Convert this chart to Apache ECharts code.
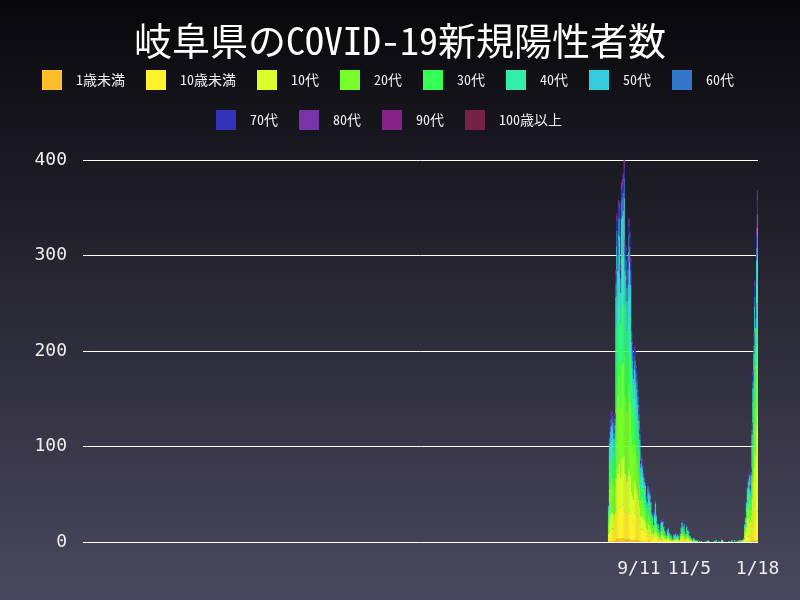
<!DOCTYPE html>
<html>
<head>
<meta charset="utf-8">
<script src="https://cdn.jsdelivr.net/npm/echarts@6/dist/echarts.min.js"></script>
<style>html,body{margin:0;padding:0;background:#000;}#c{width:800px;height:600px;}</style>
</head>
<body>
<div id="c"></div>
<script>
// ---- axis / category definitions ----
const axisStart = '2020-01-16';
const axisEnd = '2022-01-18';
const dataStart = '2021-08-09';   // first day of the daily arrays below (earlier days: no bars)
const tickDates = ['2021-09-11', '2021-11-05', '2022-01-18'];
const yTicks = [0, 100, 200, 300, 400];
const ageGroups = ['1歳未満','10歳未満','10代','20代','30代','40代','50代','60代','70代','80代','90代','100歳以上'];

// ---- daily new cases by age, 2021-08-09 .. 2022-01-18 (Aug | Sep | Oct | Nov | Dec | Jan) ----
const under1 = [
 0,1,1,1,2,1,1,1,3,3,3,4,4,3,4,4,4,4,3,3,3,3,3,
 3,3,2,2,2,2,2,2,2,2,1,1,1,1,1,1,1,1,0,0,1,1,1,0,0,0,0,0,0,0,
 0,0,0,0,0,0,0,0,0,0,0,0,0,0,0,0,0,0,0,0,0,0,0,0,0,0,1,0,0,0,0,
 0,0,0,0,0,0,0,0,0,0,0,0,0,0,0,0,0,0,0,0,0,0,0,0,0,0,0,0,0,0,
 0,0,0,0,0,0,0,0,0,0,0,0,0,0,0,0,0,0,0,0,0,0,0,0,0,0,0,0,0,0,0,
 0,0,0,0,0,0,1,0,1,0,1,1,1,1,1,1,2,2];
const under10 = [
 4,10,11,12,12,12,11,12,26,31,28,32,32,26,34,34,35,36,28,28,25,27,31,
 29,27,21,19,17,29,28,26,25,22,20,17,12,13,12,11,10,9,7,6,9,8,8,6,5,4,3,5,6,4,
 3,3,2,2,3,4,3,3,2,1,1,2,2,1,1,1,0,1,1,1,2,1,1,1,0,2,3,4,3,3,2,
 2,3,2,2,1,1,0,0,1,0,0,1,0,0,0,0,0,0,0,0,0,0,0,0,0,0,0,0,0,0,
 0,0,0,0,0,0,0,0,0,0,0,0,0,0,0,0,0,0,0,0,0,0,0,0,0,0,0,0,0,0,0,
 0,0,1,2,2,4,5,6,6,5,6,10,14,18,22,20,26,30];
const teens = [
 5,15,17,18,18,17,16,18,37,45,41,47,46,38,49,49,50,52,41,40,36,39,44,
 42,39,30,27,25,33,32,30,28,26,23,19,14,15,13,12,11,10,8,7,10,9,9,7,5,5,3,5,7,5,
 4,3,3,2,4,4,4,3,2,2,1,2,3,2,1,1,1,0,1,1,1,1,2,0,1,2,3,4,3,4,2,
 1,3,2,2,1,1,1,0,0,1,0,0,0,0,0,0,0,0,0,0,0,0,0,0,0,1,0,0,0,0,
 0,0,0,0,0,0,0,0,0,0,1,0,0,0,0,0,0,0,0,0,0,0,0,0,0,0,0,0,1,0,0,
 0,1,1,5,8,12,17,19,20,16,21,34,49,59,74,68,89,100];
const twenties = [
 11,30,33,35,36,34,31,35,74,89,82,93,92,75,98,99,100,104,82,81,73,78,88,
 85,77,60,55,49,41,40,37,35,32,28,24,17,18,17,15,14,13,10,9,12,11,11,9,7,6,4,7,9,6,
 4,4,3,2,5,5,5,3,3,2,2,3,3,2,2,2,1,1,2,2,2,1,2,2,1,2,3,4,3,4,2,
 2,3,3,2,2,1,1,1,1,1,1,0,1,0,0,0,0,1,0,0,0,0,0,0,1,0,0,0,0,0,
 0,0,0,1,0,0,0,0,0,1,0,0,0,0,0,0,0,1,0,0,0,0,0,1,0,0,1,0,0,0,1,
 1,1,1,5,6,10,13,15,16,13,16,26,38,46,58,52,69,77];
const thirties = [
 7,18,21,22,22,21,19,22,46,55,51,57,57,46,60,61,62,64,51,50,45,48,54,
 52,48,37,34,30,31,30,28,27,24,21,18,13,14,13,11,10,10,8,7,9,8,8,7,5,5,3,5,7,5,
 3,3,2,2,3,4,4,3,2,2,1,2,2,2,1,1,1,0,2,1,2,1,1,1,0,1,2,3,3,3,2,
 2,3,2,2,1,1,1,0,1,1,0,1,0,1,0,0,0,0,0,0,0,0,1,0,0,0,0,0,0,0,
 0,0,0,1,0,0,0,0,0,1,0,0,0,0,0,0,0,0,0,0,1,0,0,0,0,0,0,0,1,0,0,
 1,0,1,2,3,5,7,8,9,7,9,14,21,25,32,29,38,42];
const forties = [
 6,16,18,19,19,19,17,19,40,48,44,50,50,41,53,53,54,56,44,43,39,42,47,
 46,42,33,30,27,29,28,26,25,22,20,16,12,13,12,10,10,9,7,7,9,8,7,7,5,4,3,5,6,4,
 3,3,2,2,3,3,3,2,2,1,1,2,2,2,2,1,1,1,1,1,1,1,1,1,1,1,2,3,2,2,2,
 1,3,2,2,1,1,0,1,1,0,1,0,0,0,0,1,0,0,0,0,0,0,0,0,0,0,0,0,0,0,
 0,1,0,0,0,0,0,0,0,0,1,0,0,0,0,0,0,0,0,0,0,0,0,1,0,0,0,0,0,0,1,
 0,0,0,3,4,6,8,9,10,8,11,17,24,30,37,34,45,50];
const fifties = [
 4,13,14,15,15,15,13,15,31,38,35,39,39,32,41,42,42,44,35,34,31,33,37,
 36,33,26,23,21,20,20,18,18,16,14,12,9,9,8,8,7,7,5,5,6,6,5,5,3,3,2,3,5,3,
 2,2,1,1,2,2,2,2,1,1,1,1,2,1,1,1,1,0,1,1,1,1,1,1,0,1,1,2,2,2,1,
 1,1,2,1,1,1,1,0,0,1,0,0,0,1,0,0,0,0,0,0,0,0,0,0,1,0,0,0,0,0,
 0,0,0,0,0,0,1,0,0,0,0,0,0,0,0,0,0,0,0,0,1,0,0,0,0,0,0,0,0,1,0,
 0,0,0,1,2,4,5,6,6,5,6,10,14,18,22,20,26,28];
const sixties = [
 2,6,6,7,7,7,6,7,14,17,16,18,18,15,19,19,19,20,16,16,14,15,17,
 16,15,12,11,10,10,10,9,9,8,7,6,4,5,4,4,4,3,3,2,3,3,3,2,2,2,1,2,2,2,
 1,1,1,1,1,1,1,1,1,1,1,1,1,0,1,0,0,1,0,1,0,1,0,0,1,0,1,1,1,1,1,
 0,1,0,1,0,0,0,1,0,0,0,0,0,0,0,0,0,0,0,0,0,0,0,0,0,0,0,0,0,0,
 0,0,0,0,0,0,0,0,0,1,0,0,0,0,0,0,0,0,0,0,0,0,0,0,0,0,0,0,0,0,0,
 0,1,0,1,1,2,2,3,3,2,3,5,7,9,11,10,13,14];
const seventies = [
 1,4,4,4,4,4,4,4,9,10,9,11,10,9,11,11,12,12,9,9,8,9,10,
 10,9,7,6,6,6,6,6,5,5,4,3,3,3,3,2,2,2,1,1,2,1,1,1,1,1,1,1,1,1,
 1,1,1,0,1,1,1,1,1,0,0,0,1,1,0,0,0,0,1,0,0,0,1,0,0,1,0,1,0,1,0,
 1,0,1,0,1,0,0,0,1,0,0,0,0,0,0,0,0,0,0,1,0,0,0,0,0,0,0,0,0,0,
 0,0,0,0,0,0,0,0,0,0,0,0,0,0,0,0,0,0,0,0,0,0,1,0,0,0,0,0,0,0,0,
 0,0,1,1,1,1,2,2,2,2,3,5,7,9,11,10,13,15];
const eighties = [
 1,2,2,2,2,2,2,2,4,6,5,5,5,4,5,6,6,7,5,4,4,5,6,
 5,4,3,3,3,3,4,3,2,2,2,2,1,1,1,1,1,1,1,1,1,1,1,1,0,0,0,0,1,0,
 1,0,0,0,1,1,1,0,0,0,0,0,0,0,0,1,0,0,0,0,1,0,0,0,0,0,0,1,1,0,0,
 0,1,0,0,0,0,0,0,0,0,0,1,0,0,0,0,0,0,0,0,0,0,0,0,0,0,0,0,1,0,
 0,0,0,0,0,0,0,0,0,0,0,0,1,0,0,0,0,0,0,0,0,0,0,0,0,0,0,0,0,0,1,
 0,0,0,0,1,1,1,1,1,1,1,2,3,3,4,4,6,7];
const nineties = [
 0,0,1,0,1,0,0,0,1,2,2,2,2,1,2,2,2,3,2,2,2,1,2,
 1,1,1,1,0,1,1,0,1,1,1,0,0,0,0,0,0,0,0,0,0,0,0,0,0,0,0,0,0,0,
 0,0,0,0,0,0,0,0,0,0,0,0,0,0,0,0,0,0,0,0,0,0,0,0,0,0,0,0,0,0,0,
 0,0,0,0,0,0,0,0,0,0,0,0,0,0,0,0,0,0,0,0,0,0,0,0,0,0,0,0,0,0,
 0,0,0,0,0,0,0,0,0,0,0,0,0,0,0,0,0,0,0,0,0,0,0,0,0,0,0,0,0,0,0,
 0,0,0,0,0,0,1,1,1,1,1,1,2,2,2,2,3,3];
const over100 = [
 0,0,0,0,0,0,0,0,0,0,0,0,0,0,0,0,1,0,0,0,0,0,0,
 0,0,0,0,0,0,0,0,0,0,0,0,0,0,0,0,0,0,0,0,0,0,0,0,0,0,0,0,0,0,
 0,0,0,0,0,0,0,0,0,0,0,0,0,0,0,0,0,0,0,0,0,0,0,0,0,0,0,0,0,0,0,
 0,0,0,0,0,0,0,0,0,0,0,0,0,0,0,0,0,0,0,0,0,0,0,0,0,0,0,0,0,0,
 0,0,0,0,0,0,0,0,0,0,0,0,0,0,0,0,0,0,0,0,0,0,0,0,0,0,0,0,0,0,0,
 0,0,0,0,0,0,0,0,0,0,0,0,0,0,0,0,1,0];

const seriesValues = [under1, under10, teens, twenties, thirties, forties, fifties, sixties, seventies, eighties, nineties, over100];
const palette = ['#FFBF2A','#FFF22A','#DAFF2A','#77FF2A','#33FF55','#33EEAA','#33CCDD','#3377CC','#3333BB','#7733AA','#882288','#772244'];

// ---- build the daily category axis ----
function ymd(d){ return d.toISOString().slice(0,10); }
const categories = [];
for (let t = Date.parse(axisStart + 'T00:00:00Z'); t <= Date.parse(axisEnd + 'T00:00:00Z'); t += 86400000) {
  categories.push(ymd(new Date(t)));
}
const offset = categories.indexOf(dataStart);

const series = ageGroups.map((name, k) => ({
  name: name,
  type: 'bar',
  stack: 'total',
  barWidth: 1.3,
  itemStyle: { color: palette[k] },
  emphasis: { disabled: true },
  data: categories.map((c, i) => (i < offset ? 0 : seriesValues[k][i - offset]))
}));

const legendFont = "'Noto Sans Mono CJK JP', 'Noto Sans CJK JP', sans-serif";
const legendBase = {
  icon: 'rect', itemWidth: 20, itemHeight: 20, itemGap: 21, padding: 0,
  textStyle: { color: '#eeeeee', fontSize: 14, fontFamily: legendFont, padding: [0, 0, 0, 9] },
  selectedMode: false
};

const chart = echarts.init(document.getElementById('c'), null, { renderer: 'canvas' });
chart.setOption({
  animation: false,
  backgroundColor: { type: 'linear', x: 0, y: 0, x2: 0, y2: 1,
    colorStops: [{ offset: 0, color: '#08080b' }, { offset: 1, color: '#4a485e' }] },
  title: {
    text: '岐阜県のCOVID-19新規陽性者数', left: 'center', top: 17,
    textStyle: { color: '#ffffff', fontSize: 38, fontWeight: 'normal', fontFamily: legendFont }
  },
  legend: [
    Object.assign({}, legendBase, { data: ageGroups.slice(0, 8), left: 42, top: 70 }),
    Object.assign({}, legendBase, { data: ageGroups.slice(8), left: 216, top: 110 })
  ],
  grid: { left: 83, right: 42, top: 160, bottom: 58, containLabel: false },
  xAxis: {
    type: 'category', data: categories, boundaryGap: true,
    axisLine: { show: false }, axisTick: { show: false }, splitLine: { show: false },
    axisLabel: {
      interval: (i, v) => tickDates.indexOf(v) >= 0,
      formatter: v => { const p = v.split('-'); return (+p[1]) + '/' + (+p[2]); },
      color: '#eeeeee', fontSize: 18, fontFamily: 'DejaVu Sans Mono', margin: 18
    }
  },
  yAxis: {
    type: 'value', min: yTicks[0], max: yTicks[yTicks.length - 1], interval: 100,
    axisLine: { show: false }, axisTick: { show: false },
    axisLabel: { color: '#eeeeee', fontSize: 18, fontFamily: 'DejaVu Sans Mono', margin: 16 },
    splitLine: { lineStyle: { color: '#ffffff', width: 1 } }
  },
  series: series
});
</script>
</body>
</html>
